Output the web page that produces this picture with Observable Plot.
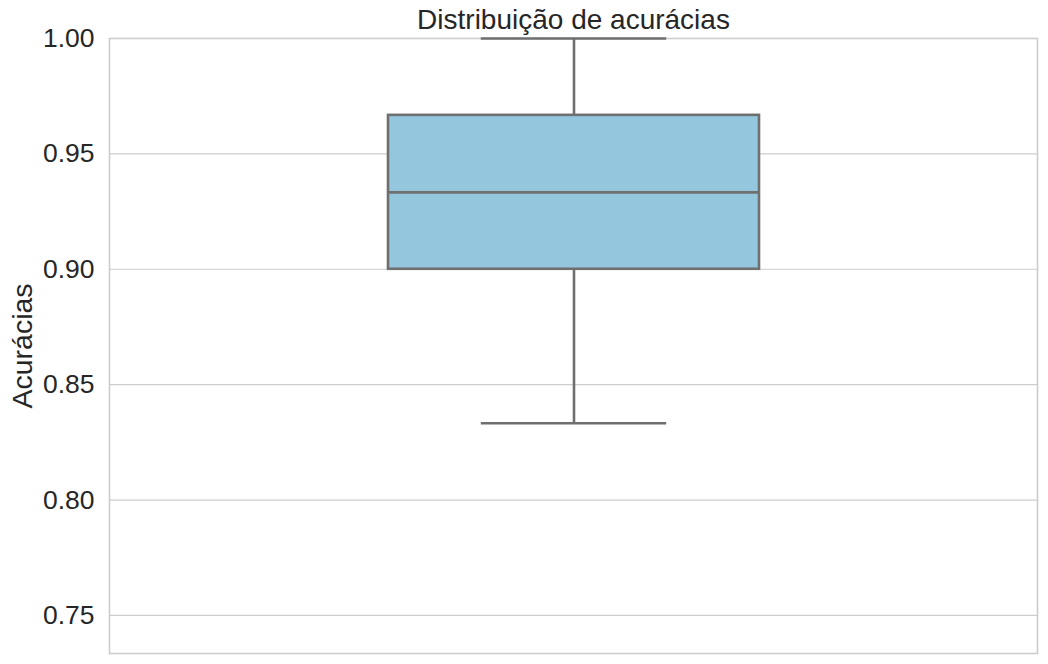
<!DOCTYPE html>
<html>
<head>
<meta charset="utf-8">
<script src="https://cdn.jsdelivr.net/npm/d3@7"></script>
<script src="https://cdn.jsdelivr.net/npm/@observablehq/plot@0.6"></script>
<style>
  html, body { margin: 0; padding: 0; background: #fff; }
  svg { display: block; }
</style>
</head>
<body>
<div id="chart"></div>
<script>
// Data
const categories = ["Acurácias"];
const q1Values = [0.9];
const medianValues = [0.9333];
const q3Values = [0.9667];
const whiskerLow = [0.8333];
const whiskerHigh = [1.0];
const yTicks = [0.75, 0.80, 0.85, 0.90, 0.95, 1.00];
const titleText = "Distribuição de acurácias";
const yLabelText = "Acurácias";

const stats = categories.map((c, i) => ({
  cat: c, q1: q1Values[i], med: medianValues[i], q3: q3Values[i],
  lo: whiskerLow[i], hi: whiskerHigh[i]
}));

const font = "'Liberation Sans', Arial, Helvetica, sans-serif";
const edge = "#6f6f6f";
const lw = 2.6;
const plotW = 1048 - 109 - 11;
const bandW = plotW / 2.5;

const chart = Plot.plot({
  width: 1048,
  height: 664,
  marginLeft: 109,
  marginRight: 11,
  marginTop: 38,
  marginBottom: 11,
  style: { fontFamily: font, fontSize: "26.5px", color: "#262626", background: "#fff", overflow: "visible" },
  x: { type: "band", domain: categories, paddingInner: 0, paddingOuter: 0.75, axis: null },
  y: { domain: [0.7335, 1.0], axis: null },
  marks: [
    Plot.gridY(yTicks, { stroke: "#cccccc", strokeOpacity: 1, strokeWidth: 1.2 }),
    Plot.frame({ stroke: "#cccccc", strokeWidth: 1.6 }),
    Plot.axisY(yTicks, { tickSize: 0, tickPadding: 15, tickFormat: d3.format(".2f"), fontSize: 26.5, fill: "#262626", label: null }),
    Plot.ruleX(stats, { x: "cat", y1: "lo", y2: "q1", stroke: edge, strokeWidth: lw }),
    Plot.ruleX(stats, { x: "cat", y1: "q3", y2: "hi", stroke: edge, strokeWidth: lw }),
    Plot.tickY(stats, { x: "cat", y: "lo", stroke: edge, strokeWidth: lw, insetLeft: bandW / 4, insetRight: bandW / 4 }),
    Plot.tickY(stats, { x: "cat", y: "hi", stroke: edge, strokeWidth: lw, insetLeft: bandW / 4, insetRight: bandW / 4 }),
    Plot.barY(stats, { x: "cat", y1: "q1", y2: "q3", fill: "#94c7dd", stroke: edge, strokeWidth: lw }),
    Plot.tickY(stats, { x: "cat", y: "med", stroke: edge, strokeWidth: lw }),
    Plot.text([titleText], { text: d => d, frameAnchor: "top", lineAnchor: "middle", textAnchor: "middle", dy: -18, fontSize: 28, fill: "#262626" }),
    Plot.text([yLabelText], { text: d => d, frameAnchor: "left", lineAnchor: "middle", textAnchor: "middle", rotate: -90, dx: -87, fontSize: 28.5, fill: "#262626" })
  ]
});
document.getElementById("chart").appendChild(chart);
</script>
</body>
</html>
